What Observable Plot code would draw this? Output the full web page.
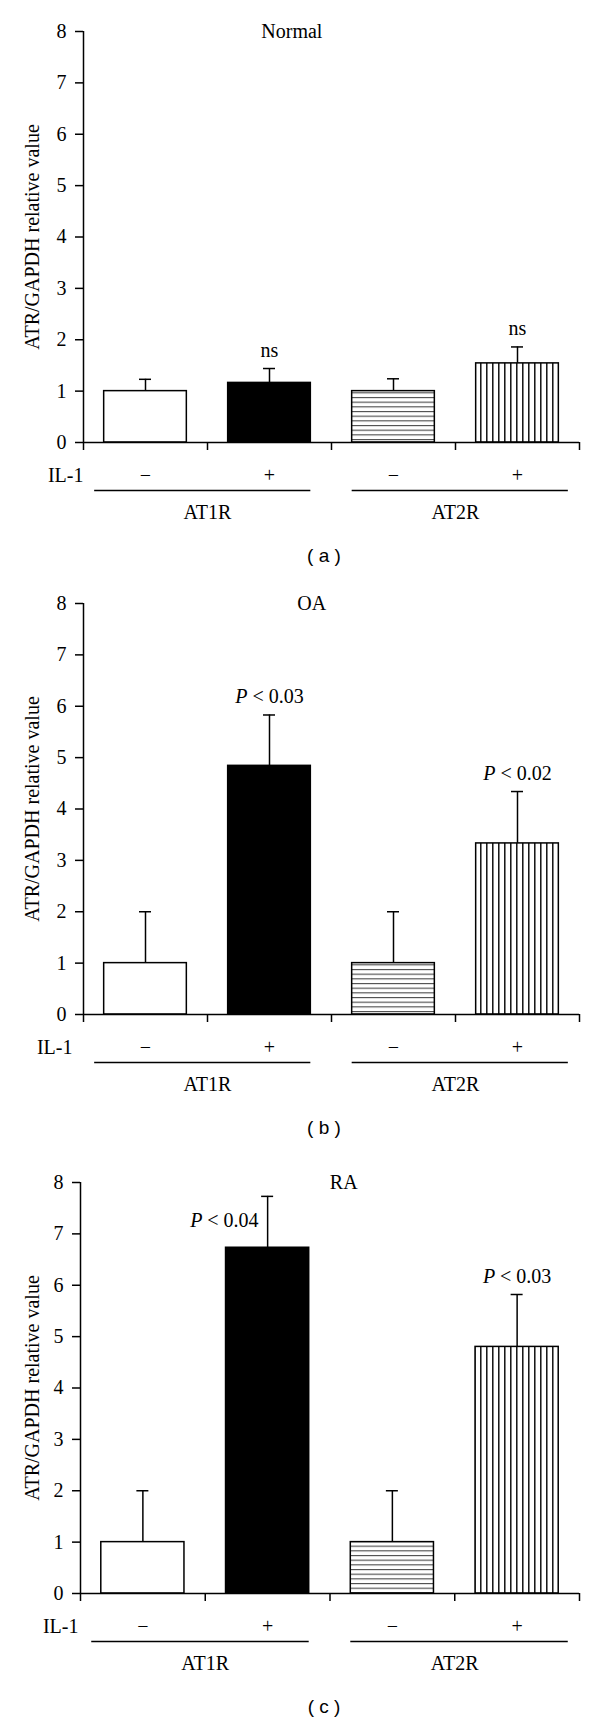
<!DOCTYPE html>
<html><head><meta charset="utf-8">
<script src="https://cdn.jsdelivr.net/npm/d3@7"></script>
<script src="https://cdn.jsdelivr.net/npm/@observablehq/plot@0.6"></script>
<style>
body{margin:0;background:#fff;width:600px;}
.caption{position:relative;height:32px;width:600px;font-family:"Liberation Sans",Arial,sans-serif;font-size:19px;color:#000;}
.caption span{position:absolute;left:324px;top:50%;transform:translate(-50%,-50%);white-space:pre;}
svg{display:block;}
</style></head><body><div id="root"></div>
<script>
// ---- data ----
const categories = ["AT1R −", "AT1R +", "AT2R −", "AT2R +"];
const receptor = ["AT1R", "AT1R", "AT2R", "AT2R"];
const il1Sign = ["−", "+", "−", "+"];
const groups = ["AT1R", "AT2R"];
const yTicks = [0, 1, 2, 3, 4, 5, 6, 7, 8];
const panelTitles = ["Normal", "OA", "RA"];
const panelLetters = ["a", "b", "c"];
const yLabel = "ATR/GAPDH relative value";
const rowLabel = "IL-1";

const normalMean = [1.00, 1.16, 1.00, 1.54];
const normalErr  = [0.23, 0.28, 0.24, 0.32];
const normalNote = ["", "ns", "", "ns"];

const oaMean = [1.00, 4.84, 1.00, 3.33];
const oaErr  = [1.00, 0.99, 1.00, 1.01];
const oaNote = ["", "P < 0.03", "", "P < 0.02"];

const raMean = [1.00, 6.73, 1.00, 4.80];
const raErr  = [1.00, 1.00, 1.00, 1.02];
const raNote = ["", "P < 0.04", "", "P < 0.03"];

// ---- layout (per panel) ----
const layout = [
  {marginTop: 31, marginLeft: 83, height: 540, titleX: 1.68, ilDx: 0},
  {marginTop: 31, marginLeft: 83, height: 540, titleX: 1.84, ilDx: -11},
  {marginTop: 38, marginLeft: 80, height: 547, titleX: 2.11, ilDx: -2}
];
const plotH = 411;
const FS = 20;
const serif = '"Liberation Serif","Times New Roman",serif';

function makePanel(i, mean, err, note) {
  const L = layout[i];
  const pid = "p" + i;
  const fillOf = ["white", "black", `url(#${pid}h)`, `url(#${pid}v)`];
  const rows = categories.map((c, k) => ({k, c, sign: il1Sign[k], mean: mean[k], top: mean[k] + err[k], note: note[k]}));
  const groupRows = groups.map((g, gi) => {
    const idx = receptor.map((r, k) => r === g ? k : -1).filter(k => k >= 0);
    return {g, gi, a: d3.min(idx), b: d3.max(idx) + 1};
  });
  const pxPerUnit = plotH / 8;
  const noted = rows.filter(d => d.note);
  const above = noted.filter(d => d.top * pxPerUnit + 30 <= plotH);
  const beside = noted.filter(d => d.top * pxPerUnit + 30 > plotH);
  const T = {fill: "black", fontSize: FS, fontFamily: serif};

  const svg = Plot.plot({
    width: 600,
    height: L.height,
    marginTop: L.marginTop,
    marginLeft: L.marginLeft,
    marginRight: 21,
    marginBottom: L.height - L.marginTop - plotH,
    style: {fontFamily: serif, fontSize: FS + "px", color: "black", background: "white"},
    x: {type: "linear", domain: [0, categories.length], axis: null},
    y: {domain: [0, 8], axis: null},
    color: {type: "identity"},
    marks: [
      Plot.rect(rows, {x1: d => d.k + 1/6, x2: d => d.k + 5/6, y1: () => 0, y2: "mean", fill: d => fillOf[d.k], stroke: "black", strokeWidth: 1.5}),
      Plot.ruleX(rows, {x: d => d.k + 0.5, y1: "mean", y2: "top", stroke: "black", strokeWidth: 1.5}),
      Plot.ruleY(rows, {y: "top", x1: d => d.k + 0.5, x2: d => d.k + 0.5, insetLeft: -6, insetRight: -6, stroke: "black", strokeWidth: 1.5}),
      Plot.ruleX([0], {stroke: "black", strokeWidth: 1.5}),
      Plot.ruleY([0], {stroke: "black", strokeWidth: 1.5}),
      Plot.axisY({ticks: yTicks, tickSize: 8, tickPadding: 9, label: null, stroke: "black", strokeWidth: 1.5, fill: "black", fontSize: FS, fontFamily: serif}),
      Plot.axisX({ticks: d3.range(categories.length + 1), tickSize: 8, tickFormat: () => "", label: null, stroke: "black", strokeWidth: 1.5}),
      Plot.text([yLabel], {frameAnchor: "left", textAnchor: "middle", lineAnchor: "middle", rotate: -90, dx: -(L.marginLeft - 32), text: d => d, ...T}),
      Plot.text([panelTitles[i]], {x: () => L.titleX, y: () => 8, text: d => d, ...T}),
      Plot.text(above, {x: d => d.k + 0.5, y: "top", text: "note", dy: -18, ...T}),
      Plot.text(beside, {x: d => d.k + 0.5, y: "top", text: "note", dy: 24, dx: -9, textAnchor: "end", ...T}),
      Plot.text(rows, {x: d => d.k + 0.5, y: () => 0, text: "sign", dy: 33, ...T}),
      Plot.text([rowLabel], {x: () => 0, y: () => 0, text: d => d, dy: 33, dx: L.ilDx, textAnchor: "end", ...T}),
      Plot.ruleY(groupRows, {y: () => 0, x1: d => d.a + (d.gi === 0 ? 0.09 : 1/6), x2: d => d.b - (d.gi === 0 ? 1/6 : 0.09), dy: 48, stroke: "black", strokeWidth: 1.5}),
      Plot.text(groupRows, {x: d => (d.a + d.b) / 2, y: () => 0, text: "g", dy: 70, ...T})
    ]
  });

  // hatch patterns
  const defs = d3.select(svg).insert("defs", ":first-child");
  const h = defs.append("pattern").attr("id", pid + "h").attr("patternUnits", "userSpaceOnUse").attr("width", 10).attr("height", 4.67);
  h.append("rect").attr("width", 10).attr("height", 4.67).attr("fill", "white");
  h.append("line").attr("x1", 0).attr("x2", 10).attr("y1", 0.6).attr("y2", 0.6).attr("stroke", "#333").attr("stroke-width", 1);
  const v = defs.append("pattern").attr("id", pid + "v").attr("patternUnits", "userSpaceOnUse").attr("width", 6).attr("height", 10);
  v.append("rect").attr("width", 6).attr("height", 10).attr("fill", "white");
  v.append("line").attr("x1", 0.8).attr("x2", 0.8).attr("y1", 0).attr("y2", 10).attr("stroke", "black").attr("stroke-width", 1.4);

  // italic P in significance labels
  d3.select(svg).selectAll("text").each(function () {
    const t = this.textContent;
    if (/^P </.test(t)) {
      const s = d3.select(this);
      s.text(null);
      s.append("tspan").attr("font-style", "italic").text("P");
      s.append("tspan").text(t.slice(1));
    }
  });

  const root = document.getElementById("root");
  root.appendChild(svg);
  const cap = document.createElement("div");
  cap.className = "caption";
  const sp = document.createElement("span");
  sp.textContent = "( " + panelLetters[i] + " )";
  cap.appendChild(sp);
  root.appendChild(cap);
}

makePanel(0, normalMean, normalErr, normalNote);
makePanel(1, oaMean, oaErr, oaNote);
makePanel(2, raMean, raErr, raNote);
</script>
</body></html>
